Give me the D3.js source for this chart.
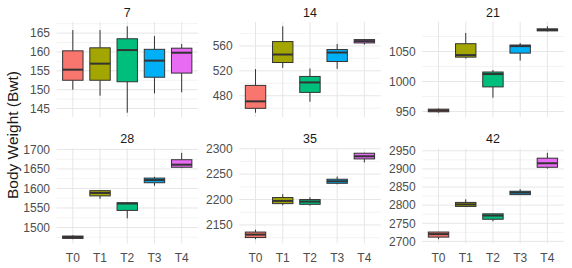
<!DOCTYPE html>
<html>
<head>
<meta charset="utf-8">
<script src="https://cdn.jsdelivr.net/npm/d3@7"></script>
<style>
  body { margin: 0; background: #fff; }
  svg { display: block; font-family: "Liberation Sans", Arial, sans-serif; }
</style>
</head>
<body>
<div id="chart"></div>
<script>
// treatments and facets (days)
const treatments = ["T0", "T1", "T2", "T3", "T4"];
const days = ["7", "14", "21", "28", "35", "42"];
const colors = ["#F8766D", "#A3A500", "#00BF7D", "#00B0F6", "#E76BF3"];

// boxplot stats per treatment: [lower whisker, q1, median, q3, upper whisker]
const day7  = [[150, 152.5, 155.3, 160.3, 165.8], [148.4, 152.5, 156.9, 161.1, 165.8], [143.9, 152.1, 160.5, 163.5, 166.8], [149, 153.3, 157.7, 160.7, 164.2], [149.3, 154.4, 159.8, 161, 162.1]];
const day14 = [[452.8, 459.8, 471, 496.6, 522.7], [524.8, 533.4, 546.2, 567, 591.5], [470.4, 485.4, 501.4, 511, 523.8], [523.2, 535, 549.4, 554.2, 563.2], [562.2, 564.8, 567.7, 570.2, 571]];
const day21 = [[948, 949.5, 951.7, 953.9, 955], [1038.2, 1040.6, 1044, 1063, 1081], [973, 991, 1012.4, 1015.8, 1019], [1034.8, 1047.3, 1059, 1060.8, 1064], [1083.5, 1084.4, 1086, 1087.8, 1092]];
const day28 = [[1470, 1472, 1475.5, 1478, 1480], [1573.4, 1581, 1588.6, 1594.4, 1596], [1523.5, 1543.8, 1561.5, 1563.3, 1564], [1607, 1614.7, 1621.5, 1626.6, 1630], [1652, 1654.4, 1661, 1673.7, 1691.4]];
const day35 = [[2122, 2125.2, 2131, 2136, 2140.6], [2188.6, 2192, 2197.3, 2204, 2210.6], [2188, 2190.6, 2196, 2200, 2204.6], [2230, 2232, 2236, 2240, 2245.2], [2273.2, 2280, 2285.2, 2291.2, 2292]];
const day42 = [[2706, 2711.7, 2720, 2725.7, 2726], [2795, 2796.4, 2802, 2807.5, 2816], [2755.3, 2761, 2771.2, 2776, 2776], [2829, 2829, 2834.6, 2838.3, 2844], [2900.6, 2904.5, 2915.6, 2929.6, 2944.4]];

// y tick labels per facet
const ticks7  = [145, 150, 155, 160, 165];
const ticks14 = [480, 520, 560];
const ticks21 = [950, 1000, 1050];
const ticks28 = [1500, 1550, 1600, 1650, 1700];
const ticks35 = [2150, 2200, 2250, 2300];
const ticks42 = [2700, 2750, 2800, 2850, 2900, 2950];

const stats = [day7, day14, day21, day28, day35, day42];
const tickSets = [ticks7, ticks14, ticks21, ticks28, ticks35, ticks42];

const width = 572, height = 268;
const colX = [56.5, 239.2, 422.2];
const rowY = [22, 148.5];
const panelW = 141.5, panelH = 95;

const svg = d3.select("#chart").append("svg")
  .attr("width", width)
  .attr("height", height);

days.forEach(function(day, i) {
  let col = i % 3, row = Math.floor(i / 3);
  let data = stats[i];
  let tks = tickSets[i];

  const g = svg.append("g").attr("transform", `translate(${colX[col]}, ${rowY[row]})`);

  let lo = d3.min(data, d => d[0]);
  let hi = d3.max(data, d => d[4]);
  let pad = (hi - lo) * 0.05;
  let y = d3.scaleLinear().domain([lo - pad, hi + pad]).range([panelH, 0]);

  // discrete scale with ggplot-like 0.6 expansion
  let x = d3.scalePoint().domain(treatments).range([0, panelW]).padding(0.6);
  let step = x.step();
  let boxW = step * 0.75;

  // minor gridlines
  let tstep = tks[1] - tks[0];
  let minors = [];
  for (let t = tks[0] - tstep; t <= tks[tks.length - 1] + tstep; t += tstep) {
    let m = t + tstep / 2;
    if (m >= y.domain()[0] && m <= y.domain()[1]) minors.push(m);
  }
  g.selectAll(".minor")
    .data(minors)
    .join("line")
      .attr("x1", 0).attr("x2", panelW)
      .attr("y1", d => y(d)).attr("y2", d => y(d))
      .attr("stroke", "#EBEBEB")
      .attr("stroke-width", 0.6);

  // major gridlines
  g.selectAll(".hmajor")
    .data(tks)
    .join("line")
      .attr("x1", 0).attr("x2", panelW)
      .attr("y1", d => y(d)).attr("y2", d => y(d))
      .attr("stroke", "#E6E6E6")
      .attr("stroke-width", 1);

  g.selectAll(".vmajor")
    .data(treatments)
    .join("line")
      .attr("x1", d => x(d)).attr("x2", d => x(d))
      .attr("y1", 0).attr("y2", panelH)
      .attr("stroke", "#E6E6E6")
      .attr("stroke-width", 1);

  // y axis labels
  g.selectAll(".ylab")
    .data(tks)
    .join("text")
      .attr("x", -6.5)
      .attr("y", d => y(d))
      .attr("dy", "0.36em")
      .attr("text-anchor", "end")
      .attr("font-size", "12px")
      .attr("fill", "#4D4D4D")
      .text(d => d);

  // boxes
  const box = g.selectAll(".box")
    .data(data)
    .join("g")
      .attr("transform", (d, j) => `translate(${x(treatments[j])}, 0)`);

  box.append("line")
    .attr("x1", 0).attr("x2", 0)
    .attr("y1", d => y(d[4])).attr("y2", d => y(d[3]))
    .attr("stroke", "#333333").attr("stroke-width", 1);
  box.append("line")
    .attr("x1", 0).attr("x2", 0)
    .attr("y1", d => y(d[1])).attr("y2", d => y(d[0]))
    .attr("stroke", "#333333").attr("stroke-width", 1);
  box.append("rect")
    .attr("x", -boxW / 2)
    .attr("width", boxW)
    .attr("y", d => y(d[3]))
    .attr("height", d => Math.max(y(d[1]) - y(d[3]), 0.5))
    .attr("fill", (d, j) => colors[j])
    .attr("stroke", "#333333")
    .attr("stroke-width", 1);
  box.append("line")
    .attr("x1", -boxW / 2).attr("x2", boxW / 2)
    .attr("y1", d => y(d[2])).attr("y2", d => y(d[2]))
    .attr("stroke", "#333333").attr("stroke-width", 2);

  // strip title
  g.append("text")
    .attr("x", panelW / 2)
    .attr("y", -10)
    .attr("dy", "0.36em")
    .attr("text-anchor", "middle")
    .attr("font-size", "12.5px")
    .attr("fill", "#1A1A1A")
    .text(day);

  // x axis labels on bottom row
  if (row === 1) {
    g.selectAll(".xlab")
      .data(treatments)
      .join("text")
        .attr("x", d => x(d))
        .attr("y", panelH + 14.5)
        .attr("dy", "0.36em")
        .attr("text-anchor", "middle")
        .attr("font-size", "12px")
        .attr("fill", "#4D4D4D")
        .text(d => d);
  }
});

// y axis title
svg.append("text")
  .attr("transform", "translate(12, 135) rotate(-90)")
  .attr("dy", "0.36em")
  .attr("text-anchor", "middle")
  .attr("font-size", "15.5px")
  .attr("fill", "#1A1A1A")
  .text("Body Weight (Bwt)");
</script>
</body>
</html>
